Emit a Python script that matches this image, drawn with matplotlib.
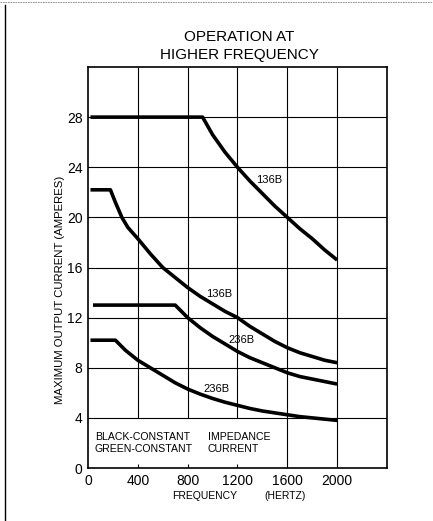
import numpy as np
import matplotlib
matplotlib.use("Agg")
import matplotlib.pyplot as plt
from matplotlib.lines import Line2D

plt.rcParams['font.family'] = ['Liberation Sans', 'DejaVu Sans']

# curve data (frequency in Hz, current in A)
xa = [20, 920, 1000, 1100, 1200, 1300, 1400, 1500, 1600, 1700, 1800, 1900, 2000]
ya = [28, 28, 26.6, 25.2, 24.0, 22.9, 21.9, 20.9, 20.0, 19.1, 18.3, 17.4, 16.6]

xb = [20, 180, 220, 272, 320, 400, 500, 600, 700, 800, 900, 1000, 1100,
      1200, 1300, 1400, 1500, 1600, 1700, 1800, 1900, 2000]
yb = [22.2, 22.2, 21.2, 20.0, 19.2, 18.3, 17.1, 16.0, 15.2, 14.4, 13.7, 13.1,
      12.5, 12.0, 11.3, 10.7, 10.1, 9.6, 9.2, 8.9, 8.6, 8.4]

xc = [40, 700, 750, 800, 900, 1000, 1100, 1200, 1300, 1400, 1500, 1600,
      1700, 1800, 1900, 2000]
yc = [13.0, 13.0, 12.5, 12.0, 11.2, 10.5, 9.9, 9.3, 8.8, 8.4, 8.0, 7.6,
      7.3, 7.1, 6.9, 6.7]

xd = [20, 220, 260, 300, 400, 500, 600, 700, 800, 900, 1000, 1100, 1200,
      1300, 1400, 1500, 1600, 1700, 1800, 1900, 2000]
yd = [10.2, 10.2, 9.8, 9.4, 8.6, 8.0, 7.4, 6.8, 6.3, 5.9, 5.55, 5.25, 5.0,
      4.75, 4.55, 4.4, 4.25, 4.1, 4.0, 3.9, 3.8]

curve_labels = ["136B", "136B", "236B", "236B"]
label_x = [1456, 1056, 1232, 1032]
label_y = [23.0, 13.9, 10.2, 6.3]

xticks = [0, 400, 800, 1200, 1600, 2000]
yticks = [0, 4, 8, 12, 16, 20, 24, 28]

fig = plt.figure(figsize=(4.33, 5.21), dpi=100)
ax = fig.add_axes([0.2032, 0.1017, 0.6905, 0.7697])
ax.set_xlim(0, 2400)
ax.set_ylim(0, 32)

# grid (the legend text area near the bottom has no vertical lines)
for y in range(4, 32, 4):
    ax.axhline(y, color='black', lw=0.8, zorder=1)
for x in [400, 800, 1200]:
    ax.vlines(x, 4, 32, color='black', lw=0.8, zorder=1)
    ax.vlines(x, 0, 0.35, color='black', lw=0.8, zorder=1)
for x in [1600, 2000]:
    ax.vlines(x, 0, 32, color='black', lw=0.8, zorder=1)

for xs, ys in [(xa, ya), (xb, yb), (xc, yc), (xd, yd)]:
    ax.plot(xs, ys, color='black', lw=2.6, solid_capstyle='butt', zorder=3)

for t, lx, ly in zip(curve_labels, label_x, label_y):
    ax.text(lx, ly, t, fontsize=8, ha='center', va='center', zorder=4)

ax.text(55, 2.45, "BLACK-CONSTANT", fontsize=7.6, va='center')
ax.text(960, 2.45, "IMPEDANCE", fontsize=7.6, va='center')
ax.text(55, 1.55, "GREEN-CONSTANT", fontsize=7.6, va='center')
ax.text(960, 1.55, "CURRENT", fontsize=7.6, va='center')

ax.set_xticks(xticks)
ax.set_yticks(yticks)
ax.tick_params(length=0, labelsize=10, pad=4)
for s in ax.spines.values():
    s.set_linewidth(1.2)

fig.text(0.139, 0.443, "MAXIMUM OUTPUT CURRENT (AMPERES)", fontsize=8.2,
         rotation=90, ha='center', va='center')
fig.text(0.473, 0.048, "FREQUENCY", fontsize=7.5, ha='center', va='center')
fig.text(0.658, 0.048, "(HERTZ)", fontsize=7.5, ha='center', va='center')

fig.text(0.552, 0.929, "OPERATION AT", fontsize=11, ha='center', va='center')
fig.text(0.552, 0.894, "HIGHER FREQUENCY", fontsize=11, ha='center', va='center')

# page edges of the scan
fig.add_artist(Line2D([0.012, 0.012], [0.0, 0.99], color='black', lw=1.0))
fig.add_artist(Line2D([0.0, 1.0], [0.996, 0.996], color='gray', lw=0.6, ls=(0, (2, 1))))

fig.savefig("out.png", dpi=100)
